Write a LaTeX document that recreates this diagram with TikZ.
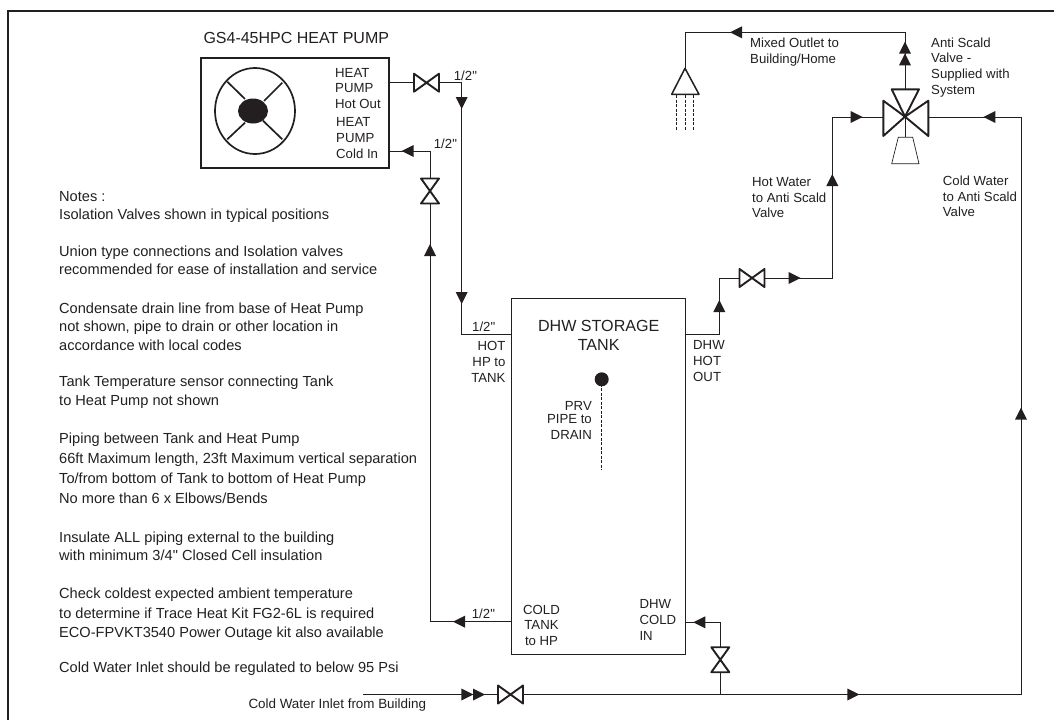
\documentclass[tikz,border=0pt]{standalone}
\usepackage{fontspec}
\setmainfont[Ligatures=TeXOff]{Liberation Sans}
\definecolor{ink}{HTML}{231F20}
\tikzset{
  pipe/.style={draw=ink, line width=0.9pt},
  valve/.style={draw=ink, line width=1.9pt, line join=round},
  hbox/.style={inner sep=0pt, outer sep=0pt, minimum width=25pt, minimum height=18pt},
  vbox/.style={inner sep=0pt, outer sep=0pt, minimum width=18pt, minimum height=25pt},
  lbl/.style={inner sep=0pt, anchor=base west, align=left, text=ink, font=\fontsize{13.2}{15.6}\selectfont},
  rlbl/.style={lbl, anchor=base east, align=right},
  note/.style={lbl, font=\fontsize{14.6}{18.3}\selectfont},
}
\newcommand{\hvalve}[2]{
  \node[hbox] (#1) at (#2) {};
  \draw[valve] (#1.north west) -- (#1.south east) -- (#1.north east) -- (#1.south west) -- cycle;
}
\newcommand{\vvalve}[2]{
  \node[vbox] (#1) at (#2) {};
  \draw[valve] (#1.north west) -- (#1.south east) -- (#1.south west) -- (#1.north east) -- cycle;
}
\newcommand{\pipetip}[2]{
  \fill[ink, shift={(#1)}, rotate=#2] (0,0) -- (-12,6) -- (-12,-6) -- cycle;
}
\begin{document}
\begin{tikzpicture}[x=1pt,y=-1pt]
  \useasboundingbox (0,0) rectangle (1054,720);
  \draw[ink, line width=2.4pt] (8,720) -- (8,11) -- (1054,11);

  \node[draw=ink, line width=1.9pt, inner sep=0pt, minimum width=188pt, minimum height=110pt] (pump) at (295,113) {};
  \draw[ink, line width=1.7pt] (255,111) ellipse (40 and 43);
  \fill[ink] (253,111) ellipse (15 and 12.5);
  \draw[ink, line width=1.7pt] (227.3,81.7) -- (245,99);
  \draw[ink, line width=1.7pt] (282.3,82.7) -- (264,101);
  \draw[ink, line width=1.7pt] (227.3,139.3) -- (245,122.7);
  \draw[ink, line width=1.7pt] (282.3,139.3) -- (263,120.7);
  \node[draw=ink, line width=0.9pt, inner sep=0pt, minimum width=174pt, minimum height=356.3pt] (tank) at (598.7,476.2) {};

  \coordinate (pumpout) at (389,82.7);
  \coordinate (pumpin) at (389,151);
  \coordinate (hotdrop) at (461.7,82.7);
  \coordinate (hotcorner) at (461.7,334);
  \coordinate (tankhot) at (511.7,334);
  \coordinate (tankcold) at (511.7,621.7);
  \coordinate (coldcorner) at (430,621.7);
  \coordinate (coldtop) at (430,151);
  \coordinate (dhwout) at (685.7,334);
  \coordinate (dhwrise) at (719.3,334);
  \coordinate (dhwtop) at (719.3,278);
  \coordinate (hotrun) at (832.3,278);
  \coordinate (hotbend) at (832.3,117);
  \coordinate (mixw) at (883.3,117);
  \coordinate (mixe) at (928.3,117);
  \coordinate (mixn) at (905,89.3);
  \coordinate (mixtop) at (905,32.3);
  \coordinate (showertop) at (685,32.3);
  \coordinate (showerin) at (685,68.3);
  \coordinate (coldbend) at (1021,117);
  \coordinate (coldfoot) at (1021,694.5);
  \coordinate (inletstart) at (363.3,694.5);
  \coordinate (branchfoot) at (720.3,694.5);
  \coordinate (branchtop) at (720.3,622.3);
  \coordinate (tankin) at (685.7,622.3);
  \coordinate (dotc) at (601.7,379.3);
  \coordinate (drainend) at (601.7,470);

  \hvalve{pumpvalve}{426.5,82.7}
  \vvalve{returnvalve}{430,191}
  \hvalve{dhwvalve}{752,278}
  \hvalve{inletvalve}{510.5,694.5}
  \vvalve{branchvalve}{720.3,659.7}

  \draw[pipe] (pumpout) -- (pumpvalve);
  \draw[pipe] (pumpvalve) -- (hotdrop) -- (hotcorner) -- (tankhot);
  \draw[pipe] (tankcold) -- (coldcorner) -- (returnvalve);
  \draw[pipe] (returnvalve) -- (coldtop) -- (pumpin);
  \draw[pipe] (dhwout) -- (dhwrise) -- (dhwtop) -- (dhwvalve);
  \draw[pipe] (dhwvalve) -- (hotrun) -- (hotbend) -- (mixw);
  \draw[pipe] (mixn) -- (mixtop) -- (showertop) -- (showerin);
  \draw[pipe] (mixe) -- (coldbend) -- (coldfoot) -- (inletvalve);
  \draw[pipe] (inletvalve) -- (inletstart);
  \draw[pipe] (branchfoot) -- (branchvalve);
  \draw[pipe] (branchvalve) -- (branchtop) -- (tankin);

  \pipetip{461.7,109}{270}
  \pipetip{461.7,304}{270}
  \pipetip{401.7,151}{180}
  \pipetip{430,244}{90}
  \pipetip{453,621.7}{180}
  \pipetip{719.3,300}{90}
  \pipetip{800.7,278}{0}
  \pipetip{832.3,174}{90}
  \pipetip{862.7,117}{0}
  \pipetip{983.3,117}{180}
  \pipetip{905,41.7}{90}
  \pipetip{905,53.3}{90}
  \pipetip{730,32.3}{180}
  \pipetip{1021,407.7}{90}
  \pipetip{859.3,694.5}{0}
  \pipetip{473.3,694.5}{0}
  \pipetip{485,694.5}{0}
  \pipetip{693.3,622.3}{180}

  \draw[valve] (905,116.7) -- (883.3,100.7) -- (883.3,136) -- cycle;
  \draw[valve] (905,116.7) -- (928.3,100.7) -- (928.3,136) -- cycle;
  \draw[valve] (905,116.7) -- (891.7,89.3) -- (919,89.3) -- cycle;
  \draw[ink, line width=0.7pt] (905,116.7) -- (905,137.3);
  \draw[ink, line width=0.7pt] (898.3,137.3) -- (912.7,137.3) -- (919,163.7) -- (891.7,163.7) -- cycle;

  \draw[ink, line width=1.5pt, line join=round] (685,68.3) -- (699,94.3) -- (671.7,94.3) -- cycle;
  \draw[ink, line width=0.8pt, dash pattern=on 3pt off 1.5pt] (676,95) -- (676,130);
  \draw[ink, line width=0.8pt, dash pattern=on 3pt off 1.5pt] (685,95) -- (685,130);
  \draw[ink, line width=0.8pt, dash pattern=on 3pt off 1.5pt] (693.3,95) -- (693.3,130);

  \fill[ink] (dotc) circle (7);
  \draw[ink, line width=0.8pt, dash pattern=on 3pt off 1.5pt] (dotc) -- (drainend);

  \node[lbl, font=\fontsize{16}{19}\selectfont] (pumptitle) at (203.3,43.3) {GS4-45HPC HEAT PUMP};
  \node[lbl] (hotoutlbl) at (335,108.3) {HEAT\\PUMP\\Hot Out};
  \node[lbl] (coldinlbl) at (336,158) {HEAT\\PUMP\\Cold In};
  \node[lbl] (sizea) at (453.7,80) {1/2"};
  \node[lbl] (sizeb) at (433.7,148) {1/2"};
  \node[lbl] (sizec) at (472,331) {1/2"};
  \node[lbl] (sized) at (471.7,618) {1/2"};
  \node[rlbl] (hptanklbl) at (505.7,382) {HOT\\HP to\\TANK};
  \node[lbl] (dhwoutlbl) at (693,381) {DHW\\HOT\\OUT};
  \node[lbl, anchor=base, align=center, font=\fontsize{16.1}{19}\selectfont] (tanklbl) at (598.7,350) {DHW STORAGE\\TANK};
  \node[rlbl] (prvlbl) at (592,439) {PRV\\[-3pt]PIPE to\\DRAIN};
  \node[lbl, anchor=base, align=center] (coldtanklbl) at (541.5,645.3) {COLD\\TANK\\to HP};
  \node[lbl] (dhwinlbl) at (639.3,640) {DHW\\COLD\\IN};
  \node[lbl, font=\fontsize{13.4}{15}\selectfont] (inletlbl) at (248.3,708.3) {Cold Water Inlet from Building};
  \node[lbl] (mixedlbl) at (750,63.3) {Mixed Outlet to\\Building/Home};
  \node[lbl] (antilbl) at (931,94) {Anti Scald\\Valve -\\Supplied with\\System};
  \node[lbl] (hotlbl) at (752,217.7) {Hot Water\\to Anti Scald\\Valve};
  \node[lbl] (coldlbl) at (942.7,216.7) {Cold Water\\to Anti Scald\\Valve};

  \node[note] (notea) at (59,219.3) {Notes :\\Isolation Valves shown in typical positions};
  \node[note] (noteb) at (59,274.3) {Union type connections and Isolation valves\\recommended for ease of installation and service};
  \node[note] (notec) at (59,350) {Condensate drain line from base of Heat Pump\\not shown, pipe to drain or other location in\\accordance with local codes};
  \node[note] (noted) at (59,405) {Tank Temperature sensor connecting Tank\\to Heat Pump not shown};
  \node[note, font=\fontsize{14.6}{20}\selectfont] (notee) at (59,503.3) {Piping between Tank and Heat Pump\\66ft Maximum length, 23ft Maximum vertical separation\\To/from bottom of Tank to bottom of Heat Pump\\No more than 6 x Elbows/Bends};
  \node[note] (notef) at (59,560.7) {Insulate ALL piping external to the building\\with minimum 3/4" Closed Cell insulation};
  \node[note, font=\fontsize{14.6}{19.7}\selectfont] (noteg) at (59,637.7) {Check coldest expected ambient temperature\\to determine if Trace Heat Kit FG2-6L is required\\ECO-FPVKT3540 Power Outage kit also available};
  \node[note] (noteh) at (59,672.7) {Cold Water Inlet should be regulated to below 95 Psi};
\end{tikzpicture}
\end{document}
